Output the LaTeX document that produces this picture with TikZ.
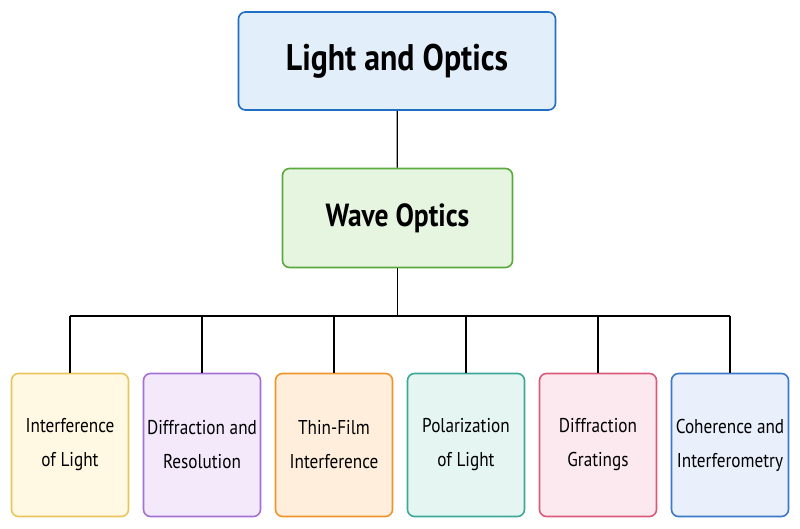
\documentclass[tikz,border=0pt]{standalone}
\usepackage{fontspec}
\setmainfont{PT Sans}[FakeStretch=0.86]
\usetikzlibrary{positioning}
\definecolor{topfill}{HTML}{E3EEFB}\definecolor{topline}{HTML}{1F6FC5}
\definecolor{wavefill}{HTML}{E6F5E0}\definecolor{waveline}{HTML}{5BA93C}
\definecolor{yfill}{HTML}{FFF8E2}\definecolor{yline}{HTML}{E9C65C}
\definecolor{pfill}{HTML}{F4E9FB}\definecolor{pline}{HTML}{A271D2}
\definecolor{ofill}{HTML}{FFEEDC}\definecolor{oline}{HTML}{F0952C}
\definecolor{tfill}{HTML}{E4F5F2}\definecolor{tline}{HTML}{3BA898}
\definecolor{rfill}{HTML}{FCE9EF}\definecolor{rline}{HTML}{D95B7C}
\definecolor{bfill}{HTML}{E9F0FC}\definecolor{bline}{HTML}{3B78C9}
\tikzset{
  box/.style={draw, line width=1.6pt, rounded corners=7pt, align=center},
  leaf/.style={box, minimum width=117pt, minimum height=143pt, inner xsep=1pt,
    font=\fontsize{20}{34}\selectfont},
  link/.style={line width=1.3pt, black}
}
\begin{document}
\begin{tikzpicture}[x=1pt, y=-1pt]
  \useasboundingbox (0,0) rectangle (800,529);
  \node [box, fill=topfill, draw=topline, minimum width=317pt, minimum height=98pt,
    font=\fontsize{37}{40}\bfseries\selectfont] (light) at (397,61) {Light and Optics};
  \node [box, fill=wavefill, draw=waveline, minimum width=230pt, minimum height=99pt,
    font=\fontsize{32}{35}\bfseries\selectfont] (wave) at (397.5,218) {Wave Optics};
  \node [leaf, fill=yfill, draw=yline] (interf) at (70,445) {Interference\\of Light};
  \node [leaf, fill=pfill, draw=pline] (diffr) at (202,445) {Diffraction and\\Resolution};
  \node [leaf, fill=ofill, draw=oline] (thin) at (334,445) {Thin-Film\\Interference};
  \node [leaf, fill=tfill, draw=tline] (polar) at (466,445) {Polarization\\of Light};
  \node [leaf, fill=rfill, draw=rline] (grat) at (598,445) {Diffraction\\Gratings};
  \node [leaf, fill=bfill, draw=bline] (coher) at (730,445) {Coherence and\\Interferometry};
  \coordinate (bus) at (397.5,316);
  \draw [link] (light) -- (wave);
  \draw [link] (wave) -- (bus);
  \foreach \n in {interf, diffr, thin, polar, grat, coher}
    \draw [link] (\n.north) -- (\n.north |- bus);
  \draw [link] (interf.north |- bus) -- (coher.north |- bus);
\end{tikzpicture}
\end{document}
